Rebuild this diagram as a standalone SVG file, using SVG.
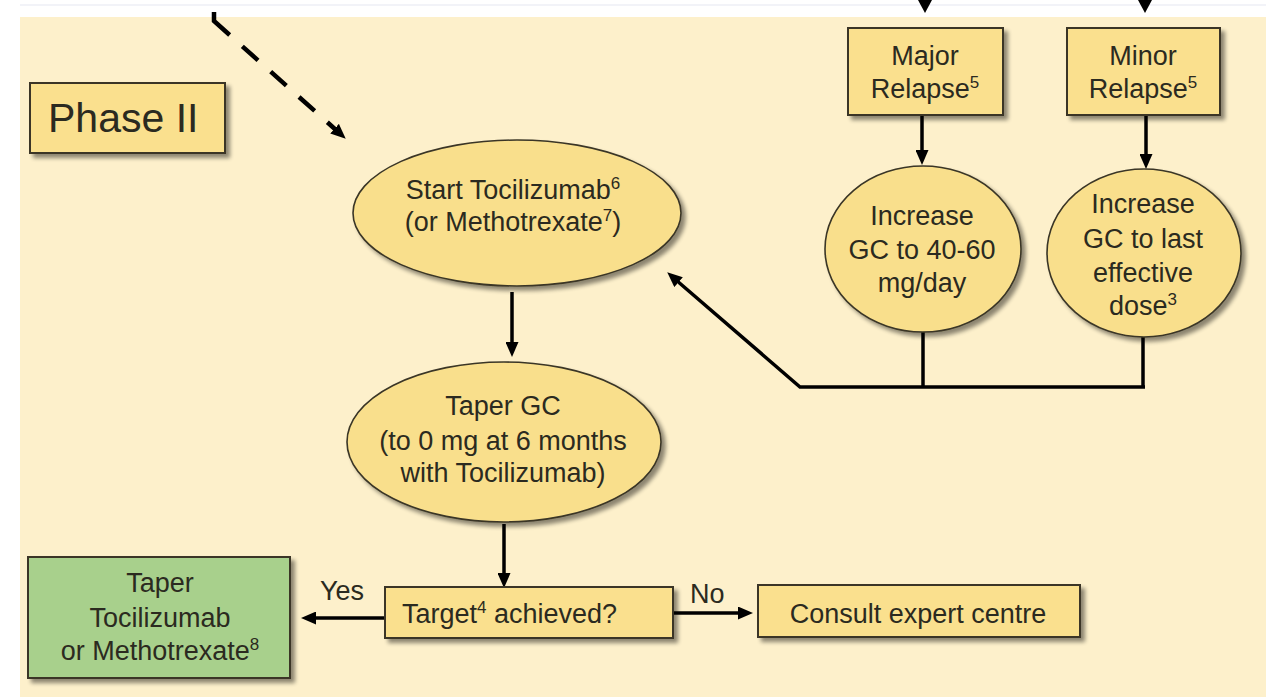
<svg xmlns="http://www.w3.org/2000/svg" width="1266" height="699" viewBox="0 0 1266 699">
  <defs>
    <filter id="shadow" x="-20%" y="-20%" width="150%" height="150%">
      <feGaussianBlur in="SourceAlpha" stdDeviation="2"/>
      <feOffset dx="4" dy="4" result="off"/>
      <feComponentTransfer><feFuncA type="linear" slope="0.45"/></feComponentTransfer>
      <feMerge><feMergeNode/><feMergeNode in="SourceGraphic"/></feMerge>
    </filter>
    <marker id="arrow" viewBox="0 0 15 13" refX="3" refY="6.5" markerWidth="15" markerHeight="13" markerUnits="userSpaceOnUse" orient="auto">
      <path d="M0,0 L15,6.5 L0,13 z" fill="#000"/>
    </marker>
    <style>
      .box { fill: #FAE08E; stroke: #3a3626; stroke-width: 2; filter: url(#shadow); }
      .green { fill: #A8D08C; stroke: #3a3626; stroke-width: 2; filter: url(#shadow); }
      .oval { fill: #F9DF8C; stroke: #3a3626; stroke-width: 1.6; filter: url(#shadow); }
      .t { font-family: "Liberation Sans", Arial, sans-serif; font-size: 27px; fill: #2b2a20; text-anchor: middle; }
      .lbl { font-family: "Liberation Sans", Arial, sans-serif; font-size: 27px; fill: #2b2a20; }
      .sup { font-size: 17px; }
      .edge { stroke: #000; stroke-width: 3.5; fill: none; }
      .dash { stroke: #000; stroke-width: 4.5; fill: none; }
    </style>
  </defs>

  <!-- page background and panel -->
  <rect x="0" y="0" width="1266" height="699" fill="#ffffff"/>
  <rect x="20" y="4" width="1246" height="2" fill="#f2f3f8"/>
  <rect x="20" y="17" width="1246" height="680" fill="#FDF0CB"/>

  <!-- connectors -->
  <g id="connectors">
    <!-- incoming arrows from above -->
    <polygon points="918,0 932,0 925,13" fill="#000"/>
    <polygon points="1138,0 1152,0 1145,13" fill="#000"/>
    <!-- dashed entry into phase II -->
    <path class="dash" d="M214,12 L214,21 L336.8,130.7" stroke-dasharray="30 17 21 17 21 17 21 17 60" marker-end="url(#arrow)"/>
    <!-- relapse boxes to treatment ovals -->
    <line class="edge" x1="922" y1="116" x2="922" y2="153" marker-end="url(#arrow)"/>
    <line class="edge" x1="1146" y1="116" x2="1146" y2="157" marker-end="url(#arrow)"/>
    <!-- return to start -->
    <polyline class="edge" points="923,332 923,387"/>
    <polyline class="edge" points="1143,337 1143,387"/>
    <polyline class="edge" points="1145,387 800,387 676.3,280.2" stroke-linejoin="miter" marker-end="url(#arrow)"/>
    <!-- main chain -->
    <line class="edge" x1="512" y1="292" x2="512" y2="345" marker-end="url(#arrow)"/>
    <line class="edge" x1="504" y1="524" x2="504" y2="576" marker-end="url(#arrow)"/>
    <line class="edge" x1="385" y1="618" x2="313" y2="618" marker-end="url(#arrow)"/>
    <line class="edge" x1="673" y1="613" x2="741" y2="613" marker-end="url(#arrow)"/>
    <text class="lbl" x="320" y="600">Yes</text>
    <text class="lbl" x="690" y="603">No</text>
  </g>

  <g id="phase-label">
    <rect class="box" x="30" y="83" width="195" height="70"/>
    <text x="48" y="132" font-family="Liberation Sans, Arial, sans-serif" font-size="41" fill="#2b2a20">Phase II</text>
  </g>

  <g id="major-relapse">
    <rect class="box" x="848" y="28" width="155" height="87"/>
    <text class="t" x="925" y="65">Major</text>
    <text class="t" x="925" y="98">Relapse<tspan class="sup" dy="-10">5</tspan></text>
  </g>

  <g id="minor-relapse">
    <rect class="box" x="1067" y="28" width="153" height="87"/>
    <text class="t" x="1143" y="65">Minor</text>
    <text class="t" x="1143" y="98">Relapse<tspan class="sup" dy="-10">5</tspan></text>
  </g>

  <g id="increase-major">
    <ellipse class="oval" cx="923" cy="249" rx="98" ry="83"/>
    <text class="t" x="922" y="225">Increase</text>
    <text class="t" x="922" y="259">GC to 40-60</text>
    <text class="t" x="922" y="292">mg/day</text>
  </g>

  <g id="increase-minor">
    <ellipse class="oval" cx="1144" cy="253" rx="97" ry="84"/>
    <text class="t" x="1143" y="213">Increase</text>
    <text class="t" x="1143" y="248">GC to last</text>
    <text class="t" x="1143" y="282">effective</text>
    <text class="t" x="1143" y="315">dose<tspan class="sup" dy="-10">3</tspan></text>
  </g>

  <g id="start-tocilizumab">
    <ellipse class="oval" cx="517" cy="213" rx="164" ry="73"/>
    <text class="t" x="513" y="199">Start Tocilizumab<tspan class="sup" dy="-10">6</tspan></text>
    <text class="t" x="513" y="231">(or Methotrexate<tspan class="sup" dy="-10">7</tspan><tspan dy="10">)</tspan></text>
  </g>

  <g id="taper-gc">
    <ellipse class="oval" cx="504" cy="442" rx="157" ry="80"/>
    <text class="t" x="503" y="415">Taper GC</text>
    <text class="t" x="503" y="450">(to 0 mg at 6 months</text>
    <text class="t" x="503" y="482">with Tocilizumab)</text>
  </g>

  <g id="target">
    <rect class="box" x="385" y="587" width="288" height="51"/>
    <text class="lbl" x="402" y="623">Target<tspan class="sup" dy="-10">4</tspan><tspan dy="10"> achieved?</tspan></text>
  </g>

  <g id="consult">
    <rect class="box" x="758" y="585" width="322" height="52"/>
    <text class="t" x="918" y="623">Consult expert centre</text>
  </g>

  <g id="taper-biologic">
    <rect class="green" x="28" y="557" width="262" height="121"/>
    <text class="t" x="160" y="592">Taper</text>
    <text class="t" x="160" y="627">Tocilizumab</text>
    <text class="t" x="160" y="660">or Methotrexate<tspan class="sup" dy="-10">8</tspan></text>
  </g>
</svg>
